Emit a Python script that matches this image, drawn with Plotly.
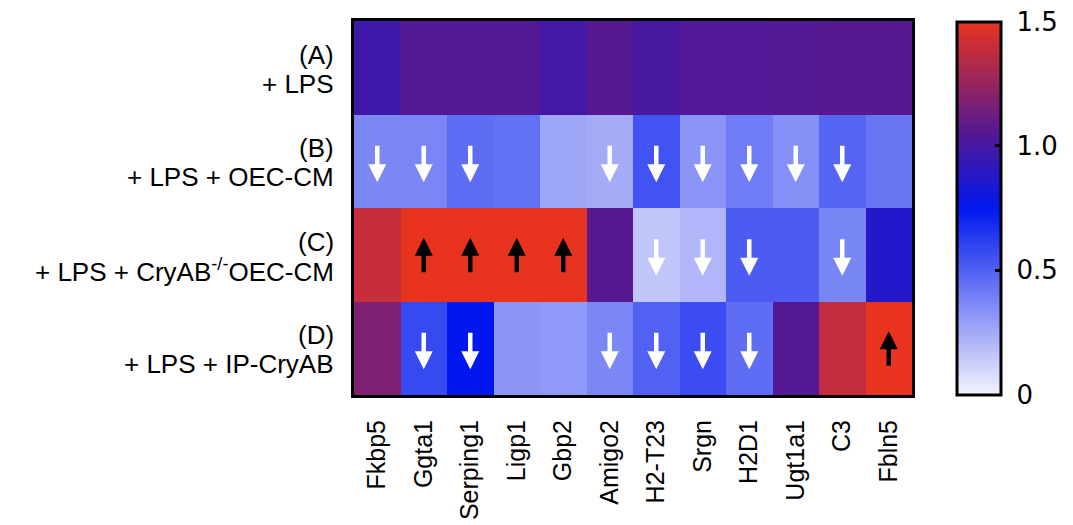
import plotly.graph_objects as go

genes = ["Fkbp5", "Ggta1", "Serping1", "Ligp1", "Gbp2", "Amigo2",
         "H2-T23", "Srgn", "H2D1", "Ugt1a1", "C3", "Fbln5"]
group_ids = ["A", "B", "C", "D"]
group_line1 = ["(A)", "(B)", "(C)", "(D)"]
group_line2 = ["+ LPS",
               "+ LPS + OEC-CM",
               "+ LPS + CryAB<sup>-/-</sup>OEC-CM",
               "+ LPS + IP-CryAB"]

row_A = [0.98, 1.05, 1.05, 1.05, 0.99, 1.06, 1.01, 1.04, 1.04, 1.05, 1.06, 1.06]
row_B = [0.37, 0.375, 0.46, 0.45, 0.265, 0.245, 0.55, 0.325, 0.41, 0.34, 0.49, 0.43]
row_C = [1.40, 1.50, 1.50, 1.50, 1.50, 1.06, 0.16, 0.21, 0.52, 0.52, 0.38, 0.87]
row_D = [1.18, 0.58, 0.75, 0.32, 0.31, 0.37, 0.50, 0.57, 0.46, 1.05, 1.38, 1.50]

# "d" = significant decrease, "u" = significant increase, "" = none
arrows_A = [""] * 12
arrows_B = ["d", "d", "d", "", "", "d", "d", "d", "d", "d", "d", ""]
arrows_C = ["", "u", "u", "u", "u", "", "d", "d", "d", "", "d", ""]
arrows_D = ["", "d", "d", "", "", "d", "d", "d", "d", "", "", "u"]

cbar_ticks = [0, 0.5, 1.0, 1.5]
cbar_labels = ["0", "0.5", "1.0", "1.5"]

z = [row_A, row_B, row_C, row_D]
arrows = [arrows_A, arrows_B, arrows_C, arrows_D]

colorscale = [[0.0, "#f4f4fd"], [0.5, "#0018ee"], [0.7, "#541894"], [1.0, "#e8341f"]]

fig = go.Figure(go.Heatmap(
    z=z, x=genes, y=group_ids, zmin=0, zmax=1.5,
    colorscale=colorscale,
    xgap=0, ygap=0, hoverongaps=False,
    colorbar=dict(
        thickness=44, thicknessmode="pixels",
        len=373, lenmode="pixels",
        x=1.0806, xanchor="left", y=0.5, yanchor="middle",
        outlinewidth=3, outlinecolor="black",
        tickvals=cbar_ticks, ticktext=["\u00a0" + t for t in cbar_labels],
        ticks="inside", ticklen=7, tickwidth=3, tickcolor="black",
        ticklabeloverflow="allow",
        tickfont=dict(family="DejaVu Sans", size=26, color="black"),
        ypad=0, xpad=0,
    ),
))

for r, gid in enumerate(group_ids):
    fig.add_annotation(x=0, xref="paper", y=gid, yref="y", text=group_line1[r],
                       showarrow=False, xanchor="right", yanchor="middle",
                       xshift=-18, yshift=13,
                       font=dict(family="Liberation Sans", size=26, color="black"))
    fig.add_annotation(x=0, xref="paper", y=gid, yref="y", text=group_line2[r],
                       showarrow=False, xanchor="right", yanchor="middle",
                       xshift=-18, yshift=-16,
                       font=dict(family="Liberation Sans", size=26, color="black"))
    for c, g in enumerate(genes):
        a = arrows[r][c]
        if not a:
            continue
        if a == "d":
            fig.add_annotation(x=g, y=gid, text="", showarrow=True,
                               ax=0, ay=-38, yshift=-21,
                               arrowhead=2, arrowsize=0.8, arrowwidth=4.5,
                               arrowcolor="white", standoff=0, startstandoff=0)
        else:
            fig.add_annotation(x=g, y=gid, text="", showarrow=True,
                               ax=0, ay=36, yshift=17,
                               arrowhead=2, arrowsize=0.8, arrowwidth=4.5,
                               arrowcolor="black", standoff=0, startstandoff=0)

fig.update_xaxes(showline=True, linewidth=3, linecolor="black", mirror=True,
                 tickangle=-90, ticks="", showgrid=False, ticklabelstandoff=12,
                 tickfont=dict(family="Liberation Sans", size=25, color="black"))
fig.update_yaxes(showline=True, linewidth=3, linecolor="black", mirror=True,
                 autorange="reversed", ticks="", showgrid=False,
                 showticklabels=False)

fig.update_layout(
    width=1073, height=525,
    margin=dict(l=346, r=169, t=10, b=138),
    paper_bgcolor="white", plot_bgcolor="white",
)

fig.write_html("out.html")
